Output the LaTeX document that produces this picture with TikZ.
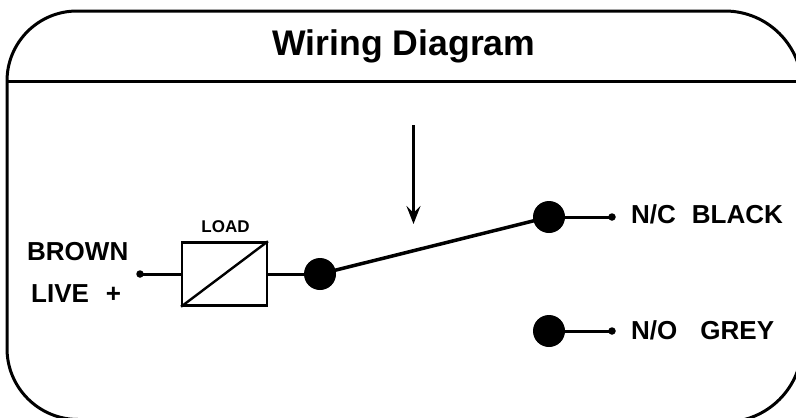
\documentclass[tikz,border=0pt]{standalone}
\usepackage{fontspec}
\setmainfont{Liberation Sans}
\usetikzlibrary{arrows.meta}
\tikzset{
  x=1pt,y=-1pt,
  frameline/.style={line width=3pt,black},
  wire/.style={line width=3pt,black},
  bigdot/.style={circle,fill=black,draw=none,minimum size=32pt,inner sep=0pt},
  smalldot/.style={circle,fill=black,draw=none,minimum size=7.5pt,inner sep=0pt},
  loadbox/.style={draw=black,line width=2.4pt,minimum width=84.5pt,minimum height=63pt,inner sep=0pt},
  lab/.style={anchor=base west,inner sep=0pt,font=\bfseries\fontsize{26}{26}\selectfont},
}
\begin{document}
\begin{tikzpicture}
\useasboundingbox (0,0) rectangle (796,418);
% frame
\draw[frameline] (7,348.5) -- (7,81) arc[start angle=180,end angle=270,radius=70] -- (725,11) arc[start angle=270,end angle=360,radius=77] -- (802,345) arc[start angle=0,end angle=90,radius=77] -- (78,419.5) arc[start angle=90,end angle=180,radius=71] -- cycle;
\coordinate (divL) at (7,81);
\coordinate (divR) at (802,81);
\draw[frameline] (divL) -- (divR);
\node[anchor=base,inner sep=0pt,font=\bfseries\fontsize{35.6}{36}\selectfont] (title) at (404,55) {Wiring Diagram};
% arrow
\coordinate (arrS) at (413.5,125);
\coordinate (arrE) at (413.5,224);
\draw[line width=3pt,-{Stealth[length=18pt,width=14pt,inset=7pt]}] (arrS) -- (arrE);
% load
\node[loadbox] (load) at (224.5,274) {};
\draw[line width=2.4pt] (load.south west) -- (load.north east);
\node[anchor=base,inner sep=0pt,font=\bfseries\fontsize{17}{17}\selectfont] (loadlab) at (225.5,232) {LOAD};
% dots
\node[smalldot] (in) at (140,274) {};
\node[bigdot] (com) at (320,274) {};
\node[bigdot] (nc) at (549,217) {};
\node[bigdot] (no) at (549,331) {};
\node[smalldot] (ncend) at (612,217) {};
\node[smalldot] (noend) at (612,331) {};
% wires
\draw[wire] (in.center) -- (load.west);
\draw[wire] (load.east) -- (com.center);
\draw[line width=3.5pt] (com.center) -- (nc.center);
\draw[wire] (nc.center) -- (ncend.center);
\draw[wire] (no.center) -- (noend.center);
% labels
\node[lab] (brown) at (27,260) {BROWN};
\node[lab] (live) at (31,302) {LIVE\hspace{17pt}+};
\node[lab] (nclab) at (631,223) {N/C\hspace{16pt}BLACK};
\node[lab] (nolab) at (631,339) {N/O\hspace{23pt}GREY};
\end{tikzpicture}
\end{document}
